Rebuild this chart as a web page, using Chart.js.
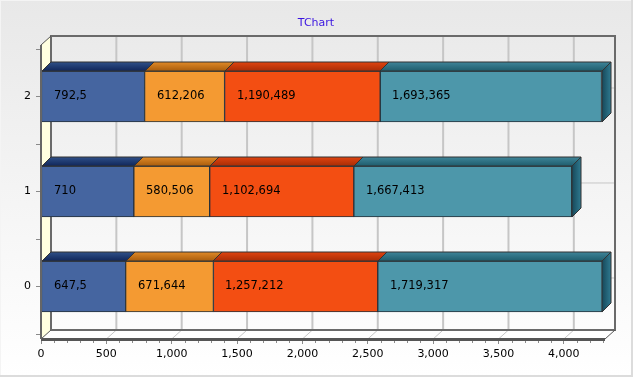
<!DOCTYPE html>
<html><head><meta charset="utf-8">
<style>html,body{margin:0;padding:0;background:#fff}#w{position:relative;width:633px;height:377px}canvas{display:block}</style>
<script src="https://cdn.jsdelivr.net/npm/chart.js@4"></script></head>
<body><div id="w"><canvas id="c" width="633" height="377"></canvas></div>
<script>
const categories=[0,1,2];
const series1=[647.5,710,792.5];
const series2=[671.644,580.506,612.206];
const series3=[1257.212,1102.694,1190.489];
const series4=[1719.317,1667.413,1693.365];
const labels1=['647,5','710','792,5'];
const labels2=['671,644','580,506','612,206'];
const labels3=['1,257,212','1,102,694','1,190,489'];
const labels4=['1,719,317','1,667,413','1,693,365'];
const chartTitle='TChart';
const colors=['#4565a0','#f49a32','#f34e12','#4d97aa'];
const topA=['#10265a','#a85c0c','#a82c05','#1e5c6c'];
const topB=['#2f5088','#e08a28','#e04410','#3f8599'];
const sideA=['#0c1f4a','#7a4208','#7a2004','#16485a'];
const sideB=['#33558f','#c47a20','#c83c0c','#2f7a90'];
const allLabels=[labels1,labels2,labels3,labels4];
const FONT='"DejaVu Sans"';
const DX=10,DY=9,BD=9;

const scene={
 id:'scene',
 beforeDraw(ch){
  const c=ch.ctx,{width:W,height:H}=ch;
  const g=c.createLinearGradient(0,0,0,H);
  g.addColorStop(0,'#e8e8e8');g.addColorStop(.45,'#f3f3f3');g.addColorStop(1,'#ffffff');
  c.save();c.fillStyle=g;c.fillRect(0,0,W,H);
  c.fillStyle='#dcdcdc';c.fillRect(0,H-2,W,2);c.fillRect(W-2,0,2,H);
  c.fillStyle='#f4f4f4';c.fillRect(0,0,W-2,1);c.fillRect(0,0,1,H-2);
  c.fillStyle='#3a14e0';c.font='11px '+FONT;c.textAlign='center';c.textBaseline='middle';
  c.fillText(chartTitle,316,23.5);
  c.restore();
 },
 beforeDatasetsDraw(ch){
  const c=ch.ctx,a=ch.chartArea,x=ch.scales.x,y=ch.scales.y;
  c.save();
  c.fillStyle='#ffffff';c.beginPath();
  c.moveTo(a.left,a.bottom);c.lineTo(a.left+DX,a.bottom-DY);c.lineTo(a.right+DX,a.bottom-DY);c.lineTo(a.right,a.bottom);c.closePath();c.fill();
  c.fillStyle='#ffffe0';c.beginPath();
  c.moveTo(a.left,a.top);c.lineTo(a.left+DX,a.top-DY);c.lineTo(a.left+DX,a.bottom-DY);c.lineTo(a.left,a.bottom);c.closePath();c.fill();
  c.strokeStyle='#c6c6c6';c.lineWidth=2;
  x.ticks.forEach(t=>{const p=x.getPixelForValue(t.value);
    if(t.value===0)return;
    c.beginPath();c.moveTo(p+DX,a.top-DY);c.lineTo(p+DX,a.bottom-DY);c.stroke();
    c.lineWidth=1;c.beginPath();c.moveTo(p+DX,a.bottom-DY);c.lineTo(p,a.bottom);c.stroke();c.lineWidth=2;});
  c.lineWidth=1;
  y.ticks.forEach(t=>{const p=y.getPixelForValue(t.value);
    c.beginPath();c.moveTo(a.left+DX,p-DY+.5);c.lineTo(a.right+DX,p-DY+.5);c.stroke();});
  c.strokeStyle='#6a6a6a';c.lineWidth=2;
  c.beginPath();c.moveTo(a.left+DX,a.bottom-DY);c.lineTo(a.left+DX,a.top-DY);c.lineTo(a.right+DX,a.top-DY);c.lineTo(a.right+DX,a.bottom-DY);c.lineTo(a.left+DX,a.bottom-DY);c.stroke();
  c.lineWidth=1;c.strokeStyle='#555';
  c.beginPath();c.moveTo(a.left,a.top);c.lineTo(a.left+DX,a.top-DY);c.moveTo(a.left,a.bottom);c.lineTo(a.left+DX,a.bottom-DY);c.moveTo(a.right,a.bottom);c.lineTo(a.right+DX,a.bottom-DY);c.stroke();
  c.restore();
 },
 afterDatasetsDraw(ch){
  const c=ch.ctx,a=ch.chartArea,x=ch.scales.x,y=ch.scales.y;
  c.save();
  const last=ch.data.datasets.length-1;
  ch.data.datasets.forEach((d,i)=>{
    ch.getDatasetMeta(i).data.forEach((b,j)=>{
      const {x:xe,y:yc,base,height}=b.getProps(['x','y','base','height'],false);
      const t=Math.round(yc-height/2),bt=Math.round(yc+height/2),l=Math.round(base),r=Math.round(xe);
      let g=c.createLinearGradient(0,t-BD,0,t);
      g.addColorStop(0,topB[i]);g.addColorStop(1,topA[i]);
      c.fillStyle=g;c.strokeStyle='#333';c.lineWidth=1;
      c.beginPath();c.moveTo(l,t);c.lineTo(l+BD,t-BD);c.lineTo(r+BD,t-BD);c.lineTo(r,t);c.closePath();c.fill();c.stroke();
      if(i===last){
        g=c.createLinearGradient(r,0,r+BD,0);
        g.addColorStop(0,sideA[i]);g.addColorStop(1,sideB[i]);
        c.fillStyle=g;
        c.beginPath();c.moveTo(r,t);c.lineTo(r+BD,t-BD);c.lineTo(r+BD,bt-BD);c.lineTo(r,bt);c.closePath();c.fill();c.stroke();
      }
      c.fillStyle='#000';c.font='11.5px '+FONT;c.textAlign='left';c.textBaseline='middle';
      c.fillText(allLabels[i][j],l+12,yc);
    });
  });
  c.strokeStyle='#555';c.lineWidth=3;
  c.beginPath();c.moveTo(a.left,a.bottom+.5);c.lineTo(a.right,a.bottom+.5);c.stroke();
  c.strokeStyle='#666';c.lineWidth=2;
  c.beginPath();c.moveTo(a.left,a.top);c.lineTo(a.left,a.bottom);c.stroke();
  c.strokeStyle='#8a8a8a';c.lineWidth=1;
  for(let v=0;v<=x.max;v+=100){
    if(v%500===0)continue;
    const p=Math.round(x.getPixelForValue(v))+.5;
    c.beginPath();c.moveTo(p,a.bottom+2);c.lineTo(p,a.bottom+4);c.stroke();
  }
  [-0.5,0.5,1.5,2.5].forEach(v=>{
    const p=Math.round(y.getPixelForValue(v))+.5;
    c.beginPath();c.moveTo(a.left-5,p);c.lineTo(a.left-1,p);c.stroke();
  });
  c.restore();
 }
};

const ds=[series1,series2,series3,series4].map((s,i)=>({
  label:'S'+i,
  data:s.map((v,j)=>({x:v,y:categories[j]})),
  backgroundColor:colors[i],borderColor:'#26303a',borderWidth:1,
  barThickness:51,borderSkipped:false
}));

new Chart(document.getElementById('c'),{
 type:'bar',
 data:{datasets:ds},
 plugins:[scene],
 options:{
  indexAxis:'y',responsive:false,animation:false,
  layout:{padding:{left:0,right:28,top:45,bottom:0}},
  plugins:{legend:{display:false},tooltip:{enabled:false},title:{display:false}},
  scales:{
   x:{type:'linear',stacked:true,min:0,max:4315,
    grid:{display:true,drawOnChartArea:false,drawTicks:true,tickLength:5,color:'#8a8a8a'},border:{display:false},
    afterBuildTicks(s){s.ticks=[0,500,1000,1500,2000,2500,3000,3500,4000].map(v=>({value:v}));},
    ticks:{color:'#000',font:{family:FONT,size:11},padding:4,maxRotation:0,autoSkip:false,callback:v=>v.toLocaleString('en-US')},
    afterFit(s){s.height=38;}},
   y:{type:'linear',stacked:true,offset:false,min:-0.553,max:2.542,
    grid:{display:true,drawOnChartArea:false,drawTicks:true,tickLength:5,color:'#8a8a8a',offset:false},border:{display:false},
    afterBuildTicks(s){s.ticks=categories.map(v=>({value:v}));},
    ticks:{color:'#000',font:{family:FONT,size:11},padding:5,callback:v=>String(v)},
    afterFit(s){s.width=41;}}
  }
 }
});
</script></body></html>
